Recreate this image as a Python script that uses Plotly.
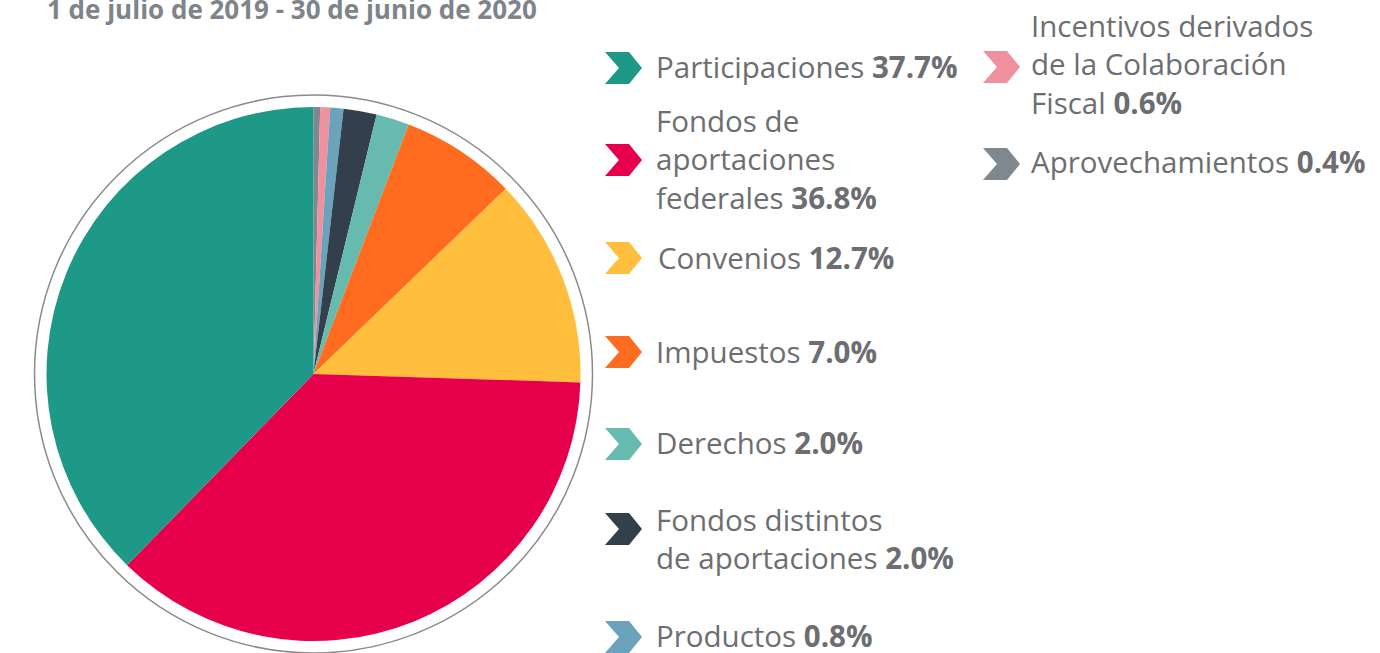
import plotly.graph_objects as go

W, H = 1380, 653

# Income composition, 1 July 2019 - 30 June 2020
categories = [
    "Participaciones",
    "Fondos de aportaciones federales",
    "Convenios",
    "Impuestos",
    "Derechos",
    "Fondos distintos de aportaciones",
    "Productos",
    "Incentivos derivados de la Colaboración Fiscal",
    "Aprovechamientos",
]
shares = [37.7, 36.8, 12.7, 7.0, 2.0, 2.0, 0.8, 0.6, 0.4]
colors = [
    "#1E9887", "#E6004C", "#FFBE3C", "#FF6B1F", "#66BBAE",
    "#333F4A", "#6BA3BC", "#F0919F", "#7F878F",
]
# legend label text, wrapped as drawn
label_lines = [
    ["Participaciones"],
    ["Fondos de", "aportaciones", "federales"],
    ["Convenios"],
    ["Impuestos"],
    ["Derechos"],
    ["Fondos distintos", "de aportaciones"],
    ["Productos"],
    ["Incentivos derivados", "de la Colaboración", "Fiscal"],
    ["Aprovechamientos"],
]

# legend layout (pixels): chevron left x, chevron center y, text left x, text center y
legend_pos = [
    (605, 68, 654, 66),
    (605, 160, 654, 159),
    (605, 258, 656, 257),
    (605, 352, 654, 351),
    (605, 444, 654, 443),
    (605, 529, 654, 538),
    (605, 637, 654, 635),
    (983, 67, 1029, 64),
    (983, 164, 1029, 161),
]

TEXT_GREY = "#6D6E71"
FONT = "Open Sans"


def px(x):
    return x / W


def py(y):
    return 1 - y / H


# pie geometry in pixels
CX, CY, R = 313.5, 374, 267
RING = 279

# slices run clockwise from 12 o'clock, smallest category first
fig = go.Figure(
    go.Pie(
        labels=categories[::-1],
        values=shares[::-1],
        sort=False,
        direction="clockwise",
        rotation=0,
        marker=dict(colors=colors[::-1], line=dict(width=0)),
        textinfo="none",
        hoverinfo="label+percent",
        showlegend=False,
        domain=dict(x=[px(CX - R), px(CX + R)], y=[py(CY + R), py(CY - R)]),
    )
)

shapes = [
    dict(
        type="circle", xref="paper", yref="paper",
        x0=px(CX - RING), x1=px(CX + RING),
        y0=py(CY + RING), y1=py(CY - RING),
        line=dict(color="#8A8A8A", width=1.5),
    )
]


def chevron(x, yc, color):
    w, h, notch, body = 37, 32, 14, 24
    pts = [
        (x, yc - h / 2), (x + body, yc - h / 2), (x + w, yc),
        (x + body, yc + h / 2), (x, yc + h / 2), (x + notch, yc),
    ]
    path = "M " + " L ".join(f"{px(a):.5f},{py(b):.5f}" for a, b in pts) + " Z"
    return dict(type="path", xref="paper", yref="paper", path=path,
                fillcolor=color, line=dict(width=0))


annotations = [
    dict(
        text="<b>1 de julio de 2019 - 30 de junio de 2020</b>",
        xref="paper", yref="paper", x=px(45), y=py(9),
        xanchor="left", yanchor="middle", showarrow=False,
        font=dict(family=FONT, size=26, color="#7D848B"),
    )
]

for lines, share, color, (cx, cy, tx, ty) in zip(label_lines, shares, colors, legend_pos):
    shapes.append(chevron(cx, cy, color))
    text = "<br>".join(lines[:-1] + [f"{lines[-1]} <b>{share:.1f}%</b>"])
    annotations.append(
        dict(
            text=text, xref="paper", yref="paper", x=px(tx), y=py(ty),
            xanchor="left", yanchor="middle", align="left", showarrow=False,
            font=dict(family=FONT, size=29.5, color=TEXT_GREY),
        )
    )

fig.update_layout(
    width=W, height=H,
    margin=dict(l=0, r=0, t=0, b=0),
    paper_bgcolor="white", plot_bgcolor="white",
    font=dict(family=FONT, color=TEXT_GREY),
    shapes=shapes, annotations=annotations,
)

fig.write_html("out.html")
